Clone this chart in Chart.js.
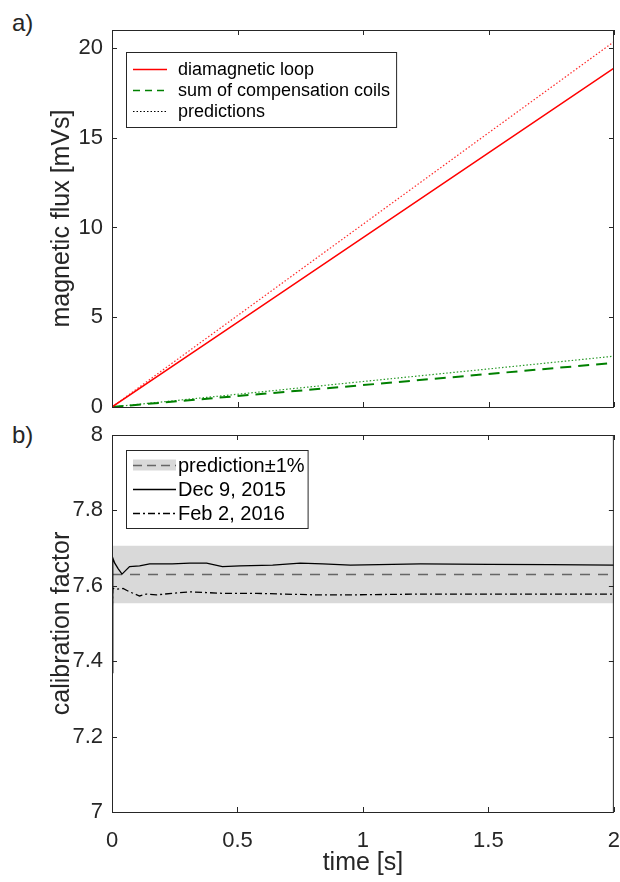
<!DOCTYPE html>
<html>
<head>
<meta charset="utf-8">
<script src="https://cdn.jsdelivr.net/npm/chart.js@4.4.0/dist/chart.umd.min.js"></script>
<style>
body { margin:0; background:#fff; width:620px; height:882px; position:relative; overflow:hidden; font-family:"Liberation Sans", Arial, sans-serif; }
.panel { position:absolute; left:0; width:620px; }
#boxA { top:0; height:430px; }
#boxB { top:420px; height:462px; }
.tag { position:absolute; left:12px; font-size:24px; line-height:28px; color:#262626; }
</style>
</head>
<body>
<div class="tag" style="top:9px">a)</div>
<div class="tag" style="top:421px">b)</div>
<div class="panel" id="boxA"><canvas id="chartA" width="620" height="430"></canvas></div>
<div class="panel" id="boxB"><canvas id="chartB" width="620" height="462"></canvas></div>
<script>
'use strict';

// tick labels
let timeTicks = [0, 0.5, 1, 1.5, 2];
let fluxTicks = [0, 5, 10, 15, 20];
let calTicks = [7, 7.2, 7.4, 7.6, 7.8, 8];

// panel a) flux in mVs
let tFlux = [0, 0.5, 1, 1.5, 2];
let loopFlux = [0, 4.71, 9.43, 14.16, 18.88];
let loopPred = [0, 5.09, 10.18, 15.27, 20.35];
let coilFlux = [0, 0.61, 1.22, 1.84, 2.46];
let coilPred = [0, 0.71, 1.42, 2.12, 2.83];

// panel b) calibration factor
let tDec = [0, 0.003, 0.011, 0.025, 0.04, 0.07, 0.11, 0.15, 0.24, 0.31, 0.377, 0.44, 0.51, 0.64, 0.75, 0.84, 0.95, 1.23, 1.5, 1.75, 2];
let calDec = [7.37, 7.674, 7.66, 7.645, 7.631, 7.651, 7.653, 7.658, 7.658, 7.66, 7.66, 7.651, 7.653, 7.655, 7.66, 7.658, 7.655, 7.658, 7.657, 7.656, 7.655];
let tFeb = [0, 0.003, 0.018, 0.044, 0.07, 0.11, 0.137, 0.177, 0.24, 0.31, 0.377, 0.44, 0.577, 0.682, 0.816, 0.95, 1.23, 1.5, 2];
let calFeb = [7.5, 7.594, 7.591, 7.593, 7.584, 7.573, 7.578, 7.576, 7.58, 7.584, 7.582, 7.58, 7.58, 7.578, 7.576, 7.576, 7.578, 7.578, 7.578];
let tPred = [0, 2];
let calPred = [7.63, 7.63];
let predLow = [7.554, 7.554];
let predHigh = [7.706, 7.706];

Chart.defaults.font.family = '"Liberation Sans", Arial, sans-serif';
Chart.defaults.color = '#262626';

function pts(xs, ys) {
    return xs.map((x, i) => ({x: x, y: ys[i]}));
}

// box round the plot with inward ticks, matlab style
let framePlugin = {
    id: 'frame',
    afterDatasetsDraw(chart) {
        let ctx = chart.ctx;
        let a = chart.chartArea;
        let sx = chart.scales.x;
        let sy = chart.scales.y;
        ctx.save();
        ctx.strokeStyle = '#262626';
        ctx.lineWidth = 1;
        ctx.beginPath();
        sx.ticks.forEach(t => {
            let px = Math.round(sx.getPixelForValue(t.value)) + 0.5;
            ctx.moveTo(px, a.bottom); ctx.lineTo(px, a.bottom - 5);
            ctx.moveTo(px, a.top); ctx.lineTo(px, a.top + 5);
        });
        sy.ticks.forEach(t => {
            let py = Math.round(sy.getPixelForValue(t.value)) + 0.5;
            ctx.moveTo(a.left, py); ctx.lineTo(a.left + 5, py);
            ctx.moveTo(a.right, py); ctx.lineTo(a.right - 5, py);
        });
        ctx.stroke();
        ctx.strokeRect(a.left + 0.5, a.top + 0.5, a.right - a.left - 1, a.bottom - a.top);
        ctx.restore();
    }
};

let boxLegend = {
    id: 'boxLegend',
    afterDraw(chart, args, o) {
        let ctx = chart.ctx;
        let items = chart.data.datasets.filter(d => d.label);
        ctx.save();
        ctx.font = o.font;
        let w = Math.max(...items.map(d => ctx.measureText(d.label).width));
        let bw = o.textX + w + o.padR;
        let bh = o.rowH * items.length + o.padV * 2;
        ctx.fillStyle = '#fff';
        ctx.fillRect(o.x, o.y, bw, bh);
        ctx.strokeStyle = '#262626';
        ctx.lineWidth = 1;
        ctx.strokeRect(o.x + 0.5, o.y + 0.5, bw, bh);
        items.forEach((d, i) => {
            let cy = Math.round(o.y + o.padV + o.rowH * (i + 0.5)) + 0.5;
            if (d.legendBand) {
                ctx.fillStyle = d.legendBand;
                ctx.fillRect(o.x + o.line0, cy - 6, o.line1 - o.line0, 11);
            }
            ctx.strokeStyle = d.legendColor || d.borderColor;
            ctx.lineWidth = d.legendWidth || d.borderWidth;
            ctx.setLineDash(d.legendDash || d.borderDash || []);
            ctx.beginPath();
            ctx.moveTo(o.x + o.line0, cy);
            ctx.lineTo(o.x + o.line1, cy);
            ctx.stroke();
            ctx.setLineDash([]);
            ctx.fillStyle = '#000';
            ctx.textBaseline = 'middle';
            ctx.fillText(d.label, o.x + o.textX, cy + 1);
        });
        ctx.restore();
    }
};

// label gap comes from tickLength (not drawn, grid is off) so it does not eat into the plot width
function xScale(showLabels, h) {
    return {
        type: 'linear', min: 0, max: 2,
        grid: {display: false, drawTicks: true, tickLength: 16},
        border: {display: false},
        ticks: {display: showLabels, padding: 0, font: {size: 22}, maxRotation: 0, callback: v => String(v)},
        afterBuildTicks: s => { s.ticks = timeTicks.map(v => ({value: v})); },
        afterFit: s => { s.height = h; },
        title: {display: showLabels, text: 'time [s]', font: {size: 25}, padding: {top: 0, bottom: 4}}
    };
}

function yScale(min, max, ticks, label) {
    return {
        min: min, max: max,
        grid: {display: false, drawTicks: true, tickLength: 9},
        border: {display: false},
        ticks: {padding: 0, font: {size: 22}, callback: v => String(v)},
        afterBuildTicks: s => { s.ticks = ticks.map(v => ({value: v})); },
        afterFit: s => { s.width = 112; },
        title: {display: true, text: label, font: {size: 25}, padding: {top: 47, bottom: 0}}
    };
}

new Chart(document.getElementById('chartA'), {
    type: 'line',
    data: {
        datasets: [
            {label: 'diamagnetic loop', data: pts(tFlux, loopFlux), borderColor: '#ff0000', borderWidth: 1.5},
            {label: 'sum of compensation coils', data: pts(tFlux, coilFlux), borderColor: '#008000', borderWidth: 2, borderDash: [11, 7], legendDash: [7, 5], legendWidth: 1.5},
            {label: 'predictions', data: pts(tFlux, loopPred), borderColor: '#ff2a2a', borderWidth: 1.2, borderDash: [1.5, 2], legendColor: '#000', legendWidth: 1},
            {label: '', data: pts(tFlux, coilPred), borderColor: '#2a9a2a', borderWidth: 1.2, borderDash: [1.5, 2]}
        ]
    },
    options: {
        responsive: false,
        animation: false,
        layout: {padding: {top: 30, right: 6, left: 0, bottom: 0}},
        elements: {point: {radius: 0}, line: {tension: 0}},
        plugins: {
            legend: {display: false},
            tooltip: {enabled: false},
            boxLegend: {x: 126, y: 52, rowH: 21, padV: 6, line0: 7, line1: 41, textX: 52, padR: 6, font: '18px "Liberation Sans", Arial, sans-serif'}
        },
        scales: {
            x: xScale(false, 23),
            y: yScale(0, 21, fluxTicks, 'magnetic flux [mVs]')
        }
    },
    plugins: [framePlugin, boxLegend]
});

new Chart(document.getElementById('chartB'), {
    type: 'line',
    data: {
        datasets: [
            {label: 'prediction±1%', data: pts(tPred, calPred), borderColor: '#666666', borderWidth: 1.5, borderDash: [10, 8], legendDash: [9, 5], legendBand: '#d9d9d9', order: 2},
            {label: 'Dec 9, 2015', data: pts(tDec, calDec), borderColor: '#000000', borderWidth: 1.3, order: 0},
            {label: 'Feb 2, 2016', data: pts(tFeb, calFeb), borderColor: '#000000', borderWidth: 1.3, borderDash: [7, 3, 2, 3], order: 1},
            {label: '', data: pts(tPred, predLow), borderColor: 'rgba(0,0,0,0)', fill: false, order: 5},
            {label: '', data: pts(tPred, predHigh), borderColor: 'rgba(0,0,0,0)', backgroundColor: '#d9d9d9', fill: '-1', order: 4}
        ]
    },
    options: {
        responsive: false,
        animation: false,
        layout: {padding: {top: 15, right: 6, left: 0, bottom: 0}},
        elements: {point: {radius: 0}, line: {tension: 0}},
        plugins: {
            legend: {display: false},
            tooltip: {enabled: false},
            boxLegend: {x: 126, y: 30, rowH: 24, padV: 3, line0: 7, line1: 50, textX: 52, padR: 3, font: '20px "Liberation Sans", Arial, sans-serif'}
        },
        scales: {
            x: xScale(true, 70),
            y: yScale(7, 8, calTicks, 'calibration factor')
        }
    },
    plugins: [framePlugin, boxLegend]
});
</script>
</body>
</html>
